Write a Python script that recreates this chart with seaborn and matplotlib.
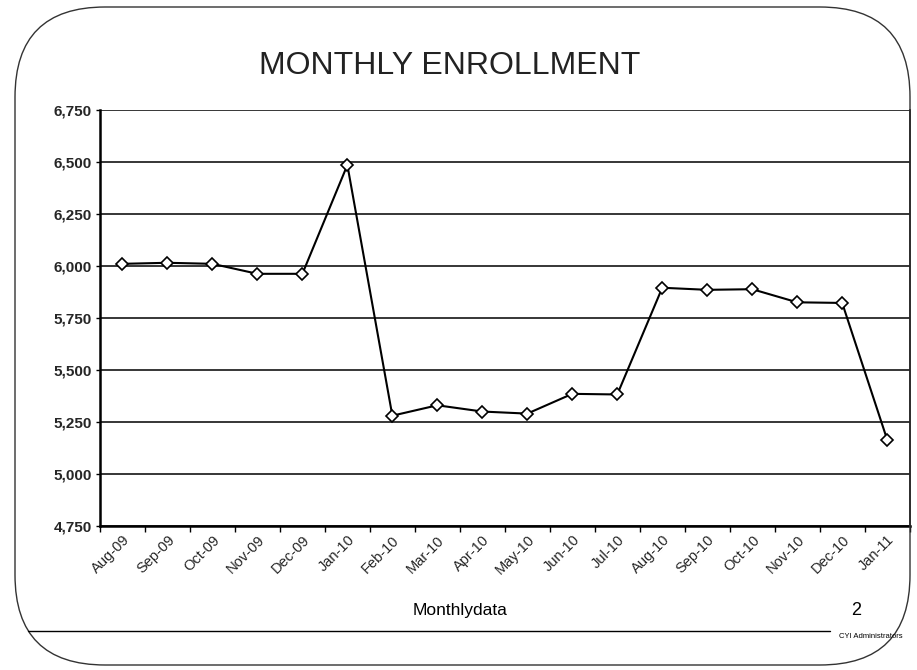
import matplotlib
matplotlib.use("Agg")
import matplotlib.pyplot as plt
from matplotlib.patches import FancyBboxPatch
from matplotlib.ticker import FixedLocator, FuncFormatter
import numpy as np
import pandas as pd
import seaborn as sns

months = ["Aug-09", "Sep-09", "Oct-09", "Nov-09", "Dec-09", "Jan-10", "Feb-10",
          "Mar-10", "Apr-10", "May-10", "Jun-10", "Jul-10", "Aug-10", "Sep-10",
          "Oct-10", "Nov-10", "Dec-10", "Jan-11"]
enrollment = [6010, 6015, 6010, 5962, 5962, 6485, 5280, 5330, 5300, 5290,
              5385, 5382, 5895, 5885, 5888, 5825, 5822, 5165]
y_ticks = [4750, 5000, 5250, 5500, 5750, 6000, 6250, 6500, 6750]

sns.set_theme(style="white")
plt.rcParams["font.family"] = ["Liberation Sans", "DejaVu Sans"]

df = pd.DataFrame({"pos": np.arange(len(months)), "enrollment": enrollment})

fig = plt.figure(figsize=(9.17, 6.70), dpi=100)
fig.patch.set_facecolor("white")

# rounded slide frame, laid out in inches so the corners stay circular
frame = FancyBboxPatch((0.15, 0.05), 8.95, 6.58,
                       boxstyle="round,pad=0,rounding_size=0.9",
                       transform=fig.dpi_scale_trans, fill=False,
                       edgecolor="#333333", linewidth=1.0)
fig.add_artist(frame)

ax = fig.add_axes([0.109, 0.215, 0.883, 0.621])
sns.lineplot(data=df, x="pos", y="enrollment", ax=ax, color="black",
             linewidth=1.5, marker="D", markersize=6.5,
             markerfacecolor="white", markeredgecolor="black",
             markeredgewidth=1.2, sort=False)

ax.set_xlim(-0.5, len(months) - 0.5)
ax.set_ylim(y_ticks[0], y_ticks[-1])
ax.set_yticks(y_ticks)
ax.yaxis.set_major_formatter(FuncFormatter(lambda v, p: f"{int(v):,}"))
ax.set_xticks(df["pos"])
ax.set_xticklabels(months, rotation=45, ha="right", rotation_mode="anchor",
                   fontsize=10.5)
for lbl in ax.get_xticklabels():
    lbl.set_x(lbl.get_position()[0])
ax.xaxis.set_minor_locator(FixedLocator(np.arange(-0.5, len(months), 1.0)))
ax.tick_params(axis="x", which="major", length=0, pad=5)
ax.tick_params(axis="x", which="minor", length=4, width=1, color="black",
               direction="out", bottom=True)
ax.tick_params(axis="y", length=3, width=1, color="black", direction="out",
               left=True, labelsize=11, pad=3)
for lbl in ax.get_yticklabels():
    lbl.set_fontweight("bold")

ax.grid(axis="y", color="black", linewidth=1.1)
ax.grid(axis="x", visible=False)
for side in ["left", "bottom"]:
    ax.spines[side].set_color("black")
    ax.spines[side].set_linewidth(1.8)
ax.spines["right"].set_color("black")
ax.spines["right"].set_linewidth(1.2)
ax.spines["top"].set_visible(False)
ax.set_xlabel("")
ax.set_ylabel("")

fig.text(0.490, 0.902, "MONTHLY ENROLLMENT", ha="center", va="center",
         fontsize=23, color="#222222")
fig.text(0.502, 0.089, "Monthlydata", ha="center", va="center",
         fontsize=12.5, color="black")
fig.text(0.934, 0.089, "2", ha="center", va="center", fontsize=13,
         color="black")
fig.add_artist(plt.Line2D([0.03, 0.905], [0.058, 0.058],
                          transform=fig.transFigure, color="black",
                          linewidth=1.0))
fig.text(0.915, 0.05, "CYI Administrators", ha="left", va="center",
         fontsize=5.5, color="black")

fig.savefig("out.png", dpi=100, facecolor="white")
